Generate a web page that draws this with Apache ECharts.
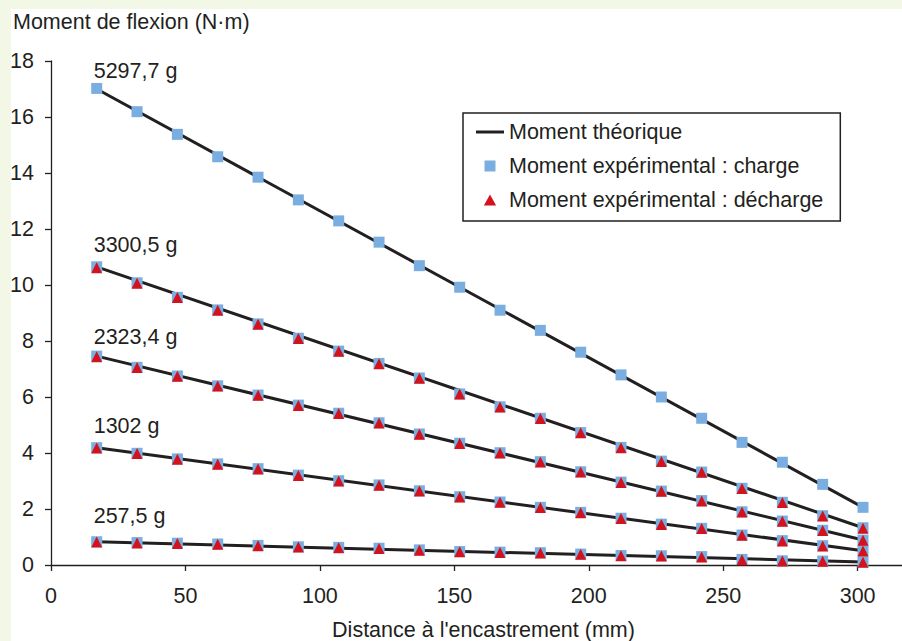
<!DOCTYPE html>
<html><head><meta charset="utf-8">
<script src="https://cdn.jsdelivr.net/npm/echarts@6/dist/echarts.min.js"></script>
<style>
html,body{margin:0;padding:0;background:#f3f7e6;}
#panel{position:absolute;left:11px;top:9px;width:891px;height:632px;background:#fff;}
#chart{position:absolute;left:0;top:0;width:902px;height:641px;}
</style></head><body><div id="panel"></div><div id="chart"></div>
<script>
// ---- data ----
const xDist = [17,32,47,62,77,92,107,122,137,152,167,182,197,212,227,242,257,272,287,302];
const tickValues = [0,50,100,150,200,250,300];
const loadLabels = ['5297,7 g','3300,5 g','2323,4 g','1302 g','257,5 g'];

const charge5297 = [17.02,16.19,15.38,14.58,13.85,13.04,12.29,11.53,10.69,9.92,9.10,8.38,7.60,6.79,6.00,5.24,4.38,3.67,2.88,2.06];
const charge3300 = [10.65,10.08,9.56,9.11,8.61,8.10,7.64,7.20,6.68,6.11,5.65,5.24,4.73,4.20,3.71,3.32,2.74,2.24,1.76,1.33];
const charge2323 = [7.46,7.06,6.75,6.40,6.07,5.71,5.42,5.08,4.68,4.35,4.01,3.69,3.33,2.96,2.64,2.30,1.90,1.57,1.24,0.89];
const charge1302 = [4.19,3.99,3.79,3.61,3.44,3.21,3.01,2.86,2.65,2.44,2.25,2.06,1.88,1.67,1.46,1.31,1.07,0.87,0.69,0.51];
const charge257  = [0.83,0.80,0.78,0.75,0.70,0.65,0.63,0.60,0.54,0.48,0.46,0.44,0.39,0.34,0.33,0.30,0.20,0.15,0.14,0.11];

const decharge3300 = [10.62,10.06,9.55,9.10,8.60,8.09,7.63,7.19,6.67,6.11,5.64,5.23,4.72,4.19,3.70,3.31,2.73,2.23,1.75,1.31];
const decharge2323 = [7.44,7.05,6.74,6.39,6.06,5.70,5.41,5.07,4.67,4.34,4.00,3.68,3.32,2.95,2.63,2.29,1.89,1.56,1.23,0.88];
const decharge1302 = [4.18,3.98,3.78,3.60,3.43,3.20,3.00,2.85,2.64,2.43,2.24,2.05,1.87,1.66,1.45,1.30,1.06,0.86,0.68,0.50];
const decharge257  = [0.82,0.79,0.77,0.74,0.69,0.64,0.62,0.59,0.53,0.47,0.45,0.43,0.38,0.33,0.32,0.29,0.19,0.14,0.13,0.10];

// theoretical moment: end values at first and last distance
const theoryStart = [17.00,10.65,7.46,4.19,0.83];
const theoryEnd   = [2.06,1.33,0.89,0.51,0.11];

// ---- styling ----
const FONT = "'Liberation Sans', Arial, Helvetica, sans-serif";
const FS = 21.5;
const INK = '#231f20';
const BLUE = '#7aaee0';
const RED = '#d2121d';
const NAME_T = 'Moment théorique';
const NAME_C = 'Moment expérimental : charge';
const NAME_D = 'Moment expérimental : décharge';
const labelDy = [-1,-5,-3,-5,-9];

const chargeSets = [charge5297, charge3300, charge2323, charge1302, charge257];
const dechargeSets = [decharge3300, decharge2323, decharge1302, decharge257];

const series = [];
theoryStart.forEach((v, i) => {
  series.push({
    name: NAME_T, type: 'line', symbol: 'none', z: 2,
    data: [[xDist[0], v], [xDist[xDist.length-1], theoryEnd[i]]],
    lineStyle: {color: INK, width: 3}, itemStyle: {color: INK},
    silent: true
  });
});
chargeSets.forEach((arr, i) => {
  series.push({
    name: NAME_C, type: 'scatter', symbol: 'rect', symbolSize: 11, z: 3,
    itemStyle: {color: BLUE, opacity: 1},
    data: arr.map((v, j) => j === 0 ? {
      value: [xDist[j], v],
      label: {show: true, formatter: loadLabels[i], position: 'top', align: 'left',
        distance: 0, offset: [-3, labelDy[i]], fontSize: FS, fontFamily: FONT, color: INK}
    } : [xDist[j], v])
  });
});
dechargeSets.forEach((arr) => {
  series.push({
    name: NAME_D, type: 'scatter', symbol: 'triangle', symbolSize: 11, z: 4,
    itemStyle: {color: RED, opacity: 1},
    data: arr.map((v, j) => [xDist[j], v])
  });
});

const chart = echarts.init(document.getElementById('chart'), null, {renderer: 'svg'});
chart.setOption({
  animation: false,
  backgroundColor: 'transparent',
  textStyle: {fontFamily: FONT, color: INK},
  grid: {left: 51, top: 61, right: 0, bottom: 76, containLabel: false, outerBoundsMode: 'none'},
  legend: {
    orient: 'vertical', left: 463, top: 113,
    data: [
      {name: NAME_T, icon: 'path://M0,0L28,0L28,3L0,3Z', itemStyle: {color: INK}},
      {name: NAME_C, icon: 'path://M0,0L10,0L10,10L0,10Z'},
      {name: NAME_D, icon: 'path://M5,0L10,9L0,9Z'}
    ],
    symbolKeepAspect: true,
    itemWidth: 28, itemHeight: 11, itemGap: 12,
    padding: [8, 17, 10, 13],
    borderColor: INK, borderWidth: 1.5, backgroundColor: '#fff',
    textStyle: {fontSize: FS, fontFamily: FONT, color: INK},
    selectedMode: false
  },
  xAxis: {
    type: 'value', min: 0, max: 316.5,
    name: "Distance à l'encastrement (mm)", nameLocation: 'middle', nameGap: 54,
    nameTextStyle: {fontSize: FS, fontFamily: FONT, color: INK, padding: [0, 0, 0, 14]},
    axisLine: {show: true, lineStyle: {color: INK, width: 1.3}},
    axisTick: {show: true, inside: false, length: 6, lineStyle: {color: INK, width: 1.3}, customValues: tickValues},
    axisLabel: {fontSize: FS, fontFamily: FONT, color: INK, margin: 20, customValues: tickValues},
    splitLine: {show: false}
  },
  yAxis: {
    type: 'value', min: 0, max: 18, interval: 2,
    axisLine: {show: true, lineStyle: {color: INK, width: 1.3}},
    axisTick: {show: true, inside: false, length: 6, lineStyle: {color: INK, width: 1.3}},
    axisLabel: {fontSize: FS, fontFamily: FONT, color: INK, margin: 17},
    splitLine: {show: false}
  },
  graphic: [{
    type: 'text', x: 13, y: 22,
    style: {text: 'Moment de flexion (N·m)', fontSize: FS, fontFamily: FONT, fill: INK,
      align: 'left', verticalAlign: 'middle'}
  }],
  series: series
});
</script></body></html>
